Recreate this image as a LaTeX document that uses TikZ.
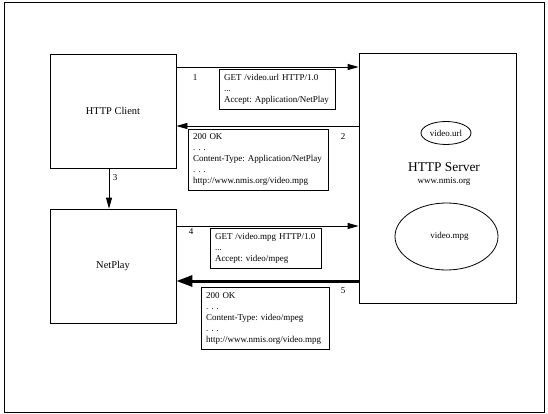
\documentclass[tikz,border=0pt]{standalone}
\usepackage{fontspec}
\setmainfont{Liberation Serif}
\usetikzlibrary{arrows.meta,shapes.geometric}
\frenchspacing
\newcommand{\msglines}[1]{\begin{tabular}{@{}l@{}}#1\end{tabular}}
\begin{document}
\begin{tikzpicture}[x=1pt,y=-1pt,
  box/.style={draw, line width=0.8pt, inner sep=0pt, font=\fontsize{10.4}{12}\selectfont},
  msg/.style={draw, line width=0.8pt, align=left, inner xsep=5pt, inner ysep=0pt, font=\fontsize{9}{11}\selectfont},
  num/.style={font=\fontsize{9}{11}\selectfont, inner sep=0pt},
  ell/.style={draw, ellipse, line width=0.8pt, inner sep=0pt, font=\fontsize{9}{11}\selectfont},
  arr/.style={line width=0.8pt, -{Triangle[length=11pt,width=6pt]}},
  thickarr/.style={line width=3pt, -{Triangle[length=16pt,width=11pt]}}]
\useasboundingbox (0,0) rectangle (548,414);
\draw[line width=1pt] (4,3) rectangle (544,412);

\node[box, minimum width=126pt, minimum height=114pt] (client) at (113,111) {HTTP Client};
\node[box, minimum width=126pt, minimum height=114pt] (netplay) at (113,266) {NetPlay};
\node[box, minimum width=157pt, minimum height=250pt] (server) at (437.5,178) {};

\node[ell, minimum width=50pt, minimum height=23pt] (url) at (446,133) {video.url};
\node[ell, minimum width=103pt, minimum height=67pt] (mpg) at (446.5,236.5) {\hspace*{6pt}video.mpg};
\node[inner sep=0pt, font=\fontsize{13.4}{15}\selectfont] (srvname) at (444,167) {HTTP Server};
\node[inner sep=0pt, font=\fontsize{9}{11}\selectfont] (srvaddr) at (444,181) {www.nmis.org};

\node[msg, text width=106pt, minimum height=40pt] (m1) at (277,89)
  {\msglines{GET /video.url HTTP/1.0\\...\\Accept: Application/NetPlay}};
\node[msg, text width=130pt, minimum height=61pt] (m2) at (258,159.5)
  {\msglines{200 OK\\. . .\\Content-Type: Application/NetPlay\\. . .\\http://www.nmis.org/video.mpg}};
\node[msg, text width=101pt, minimum height=40pt] (m4) at (265.5,248)
  {\msglines{GET /video.mpg HTTP/1.0\\...\\Accept: video/mpeg}};
\node[msg, text width=118pt, minimum height=62pt] (m5) at (265,318)
  {\msglines{200 OK\\. . .\\Content-Type: video/mpeg\\. . .\\http://www.nmis.org/video.mpg}};

\node[num] (n1) at (195,78) {1};
\node[num] (n2) at (343,137) {2};
\node[num] (n3) at (115,178) {3};
\node[num] (n4) at (191,232) {4};
\node[num] (n5) at (343,291) {5};

\coordinate (y1) at (0,67);
\coordinate (y2) at (0,126);
\coordinate (x3) at (109,0);
\coordinate (y4) at (0,226);
\coordinate (y5) at (0,281);

\draw[arr] (client.east |- y1) -- (server.west |- y1);
\draw[arr] (server.west |- y2) -- (client.east |- y2);
\draw[arr] (client.south -| x3) -- (netplay.north -| x3);
\draw[arr] (netplay.east |- y4) -- (server.west |- y4);
\draw[thickarr] (server.west |- y5) -- (netplay.east |- y5);
\end{tikzpicture}
\end{document}
